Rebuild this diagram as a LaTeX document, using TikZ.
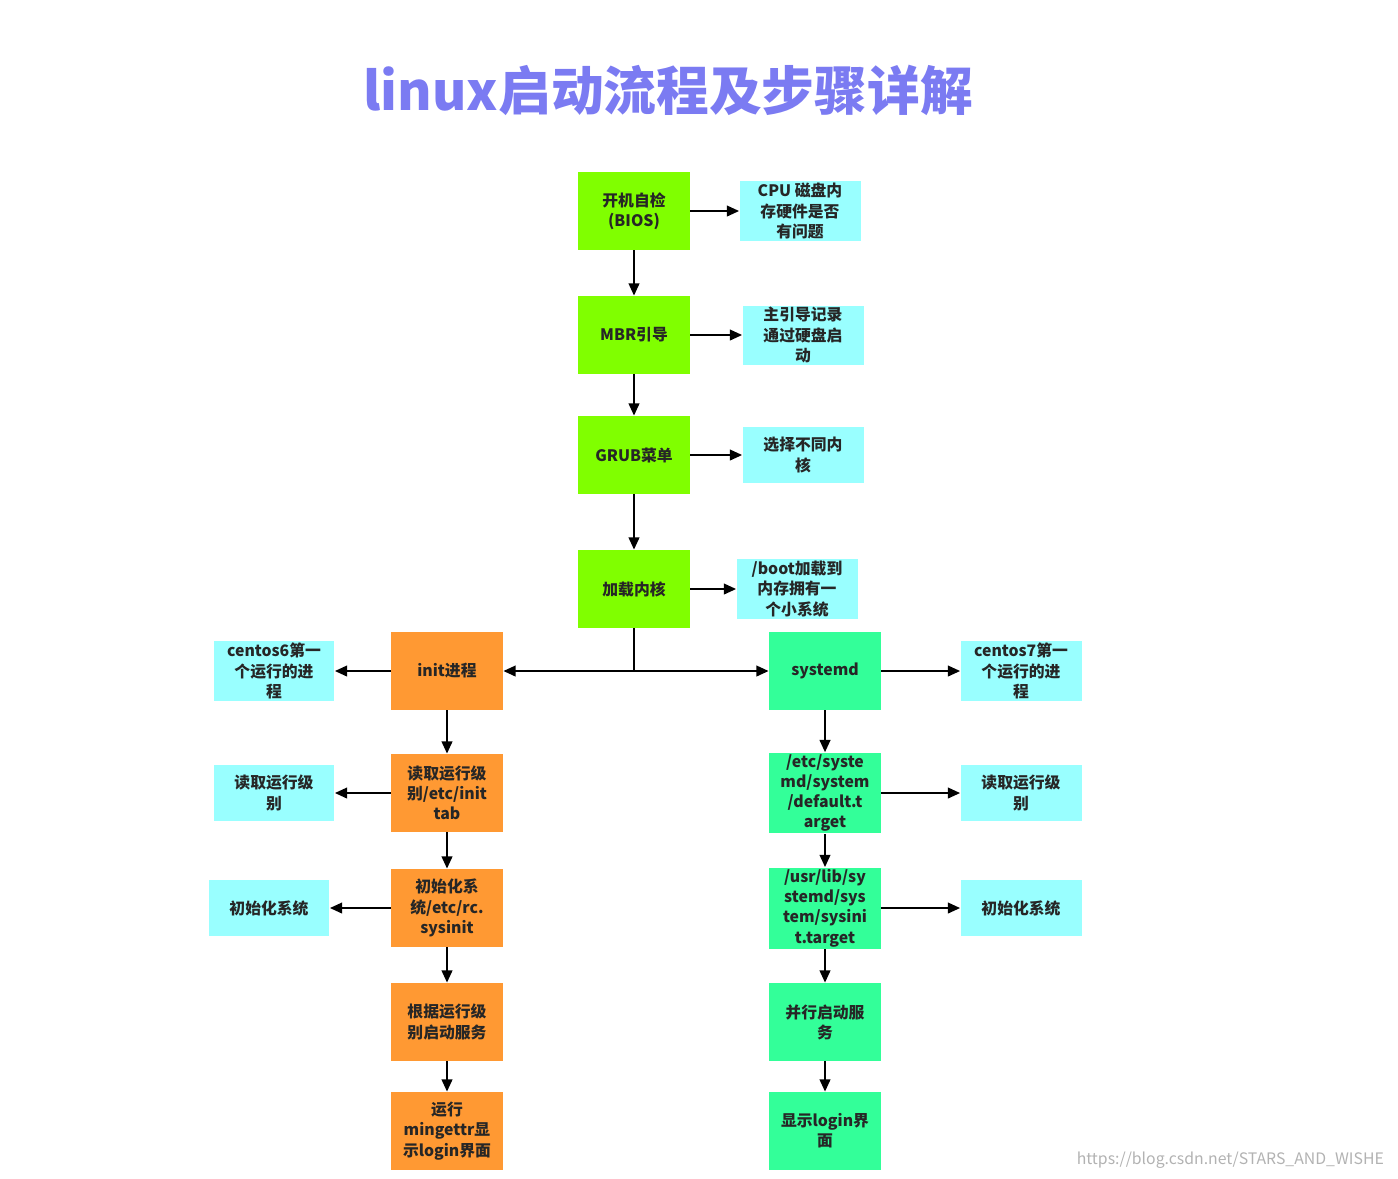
\documentclass[tikz,border=0pt]{standalone}
\usepackage{fontspec}
\setmainfont{Noto Sans CJK SC}
\newfontfamily\titlefont{Noto Sans CJK SC}
\usetikzlibrary{arrows.meta}
\definecolor{gr}{HTML}{80FF00}
\definecolor{cy}{HTML}{99FFFF}
\definecolor{og}{HTML}{FF9933}
\definecolor{tg}{HTML}{33FF99}
\definecolor{tt}{HTML}{7B7BF2}
\tikzset{
 box/.style={minimum width=2.24cm,minimum height=1.56cm,inner sep=1pt,align=center,font=\fontsize{9}{11.5}\selectfont\bfseries,text=black!85},
 gbox/.style={box,fill=gr},
 obox/.style={box,fill=og},
 tbox/.style={box,fill=tg},
 cbox/.style={box,fill=cy,minimum width=2.42cm,minimum height=1.12cm},
 arr/.style={draw=black,line width=1.3pt,-{Triangle[length=7pt,width=6pt]}}
}
\begin{document}
\begin{tikzpicture}[x=0.02cm,y=-0.02cm]
\useasboundingbox (0,0) rectangle (1398,1178);
\node[font=\fontsize{30}{34}\selectfont\bfseries,text=tt] (title) at (668,90) {linux启动流程及步骤详解};
\node[gbox] (n1) at (634,211) {开机自检\\(BIOS)};
\node[gbox] (n2) at (634,335) {MBR引导};
\node[gbox] (n3) at (634,455) {GRUB菜单};
\node[gbox] (n4) at (634,589) {加载内核};
\node[cbox] (c1) at (800,211) {CPU 磁盘内\\存硬件是否\\有问题};
\node[cbox] (c2) at (803,335) {主引导记录\\通过硬盘启\\动};
\node[cbox] (c3) at (803,455) {选择不同内\\核};
\node[cbox] (c4) at (797,589) {/boot加载到\\内存拥有一\\个小系统};
\foreach \a/\b in {n1/c1,n2/c2,n3/c3,n4/c4,n1/n2,n2/n3,n3/n4} \draw[arr] (\a)--(\b);
\node[obox] (o1) at (447,671) {init进程};
\node[obox] (o2) at (447,793) {读取运行级\\别/etc/init\\tab};
\node[obox] (o3) at (447,908) {初始化系\\统/etc/rc.\\sysinit};
\node[obox] (o4) at (447,1022) {根据运行级\\别启动服务};
\node[obox] (o5) at (447,1131) {运行\\mingettr显\\示login界面};
\node[tbox] (t1) at (825,671) {systemd};
\node[tbox] (t2) at (825,793) {/etc/syste\\md/system\\/default.t\\arget};
\node[tbox] (t3) at (825,908) {/usr/lib/sy\\stemd/sys\\tem/sysini\\t.target};
\node[tbox] (t4) at (825,1022) {并行启动服\\务};
\node[tbox] (t5) at (825,1131) {显示login界\\面};
\node[cbox] (l1) at (274,671) {centos6第一\\个运行的进\\程};
\node[cbox] (l2) at (274,793) {读取运行级\\别};
\node[cbox] (l3) at (269,908) {初始化系统};
\node[cbox] (r1) at (1021,671) {centos7第一\\个运行的进\\程};
\node[cbox] (r2) at (1021,793) {读取运行级\\别};
\node[cbox] (r3) at (1021,908) {初始化系统};
\coordinate (j) at (634,671);
\draw[line width=1.3pt] (n4.south)--(j);
\draw[arr] (j)--(o1); \draw[arr] (j)--(t1);
\foreach \a/\b in {o1/o2,o2/o3,o3/o4,o4/o5,t1/t2,t2/t3,t3/t4,t4/t5,o1/l1,o2/l2,o3/l3,t1/r1,t2/r2,t3/r3} \draw[arr] (\a)--(\b);
\node[anchor=east,text=black!30,font=\fontsize{9}{10}\selectfont] (wm) at (1390,1160) {https://blog.csdn.net/STARS\_AND\_WISHE};
\end{tikzpicture}
\end{document}
